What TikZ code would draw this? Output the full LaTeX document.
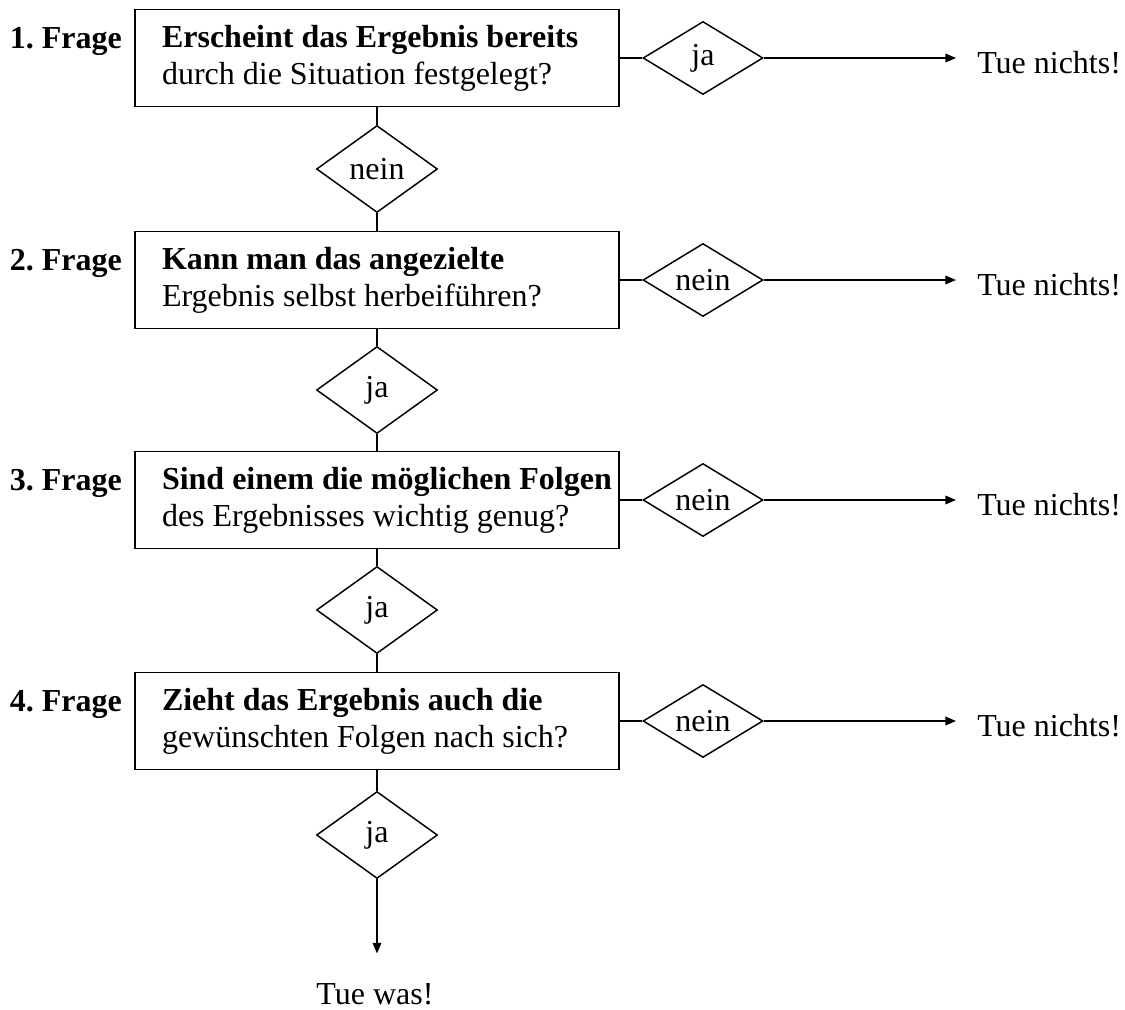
\documentclass[tikz,border=0pt]{standalone}
\usepackage{fontspec}
\setmainfont{Liberation Serif}
\frenchspacing
\usetikzlibrary{shapes.geometric,arrows.meta}
\tikzset{
  every node/.style={font=\fontsize{24}{27.75}\selectfont},
  frage/.style={draw,line width=1.4pt,rectangle,minimum width=363pt,
    minimum height=72.75pt,inner xsep=20.25pt,text width=322.5pt,align=flush left},
  weiter/.style={draw,line width=1.1pt,diamond,aspect=1.6,inner sep=0pt,
    minimum width=90.75pt,minimum height=65.25pt},
  antwort/.style={draw,line width=1.1pt,diamond,aspect=1.6,inner sep=0pt,
    minimum width=90pt,minimum height=54.75pt},
  nummer/.style={anchor=base east,inner sep=0pt,font=\fontsize{24}{27.75}\selectfont\bfseries},
  ende/.style={anchor=base west,inner sep=0pt},
  linie/.style={line width=1.1pt},
  pfeil/.style={line width=1.1pt,-{Triangle[length=8pt,width=6.5pt]}}
}
\begin{document}
\begin{tikzpicture}[x=0.75pt,y=-0.75pt]
  \useasboundingbox (0,0) rectangle (1125,1010);
  % Draw question boxes
  \node[frage] (b1) at (377,58)
    {\mbox{\textbf{Erscheint das Ergebnis bereits}}\\\mbox{durch die Situation festgelegt?}};
  \node[frage] (b2) at (377,280)
    {\mbox{\textbf{Kann man das angezielte}}\\\mbox{Ergebnis selbst herbeiführen?}};
  \node[frage] (b3) at (377,500)
    {\mbox{\textbf{Sind einem die möglichen Folgen}}\\\mbox{des Ergebnisses wichtig genug?}};
  \node[frage] (b4) at (377,721)
    {\mbox{\textbf{Zieht das Ergebnis auch die}}\\\mbox{gewünschten Folgen nach sich?}};
  % Draw question numbers
  \node[nummer] (n1) at (122,48)  {1. Frage};
  \node[nummer] (n2) at (122,270) {2. Frage};
  \node[nummer] (n3) at (122,490) {3. Frage};
  \node[nummer] (n4) at (122,711) {4. Frage};
  % Draw answers to the right
  \node[antwort] (r1) at (703,58)  {ja};
  \node[antwort] (r2) at (703,280) {nein};
  \node[antwort] (r3) at (703,500) {nein};
  \node[antwort] (r4) at (703,721) {nein};
  \node[ende] (t1) at (977,73)  {Tue nichts!};
  \node[ende] (t2) at (977,295) {Tue nichts!};
  \node[ende] (t3) at (977,515) {Tue nichts!};
  \node[ende] (t4) at (977,736) {Tue nichts!};
  % Draw answers downwards
  \node[weiter] (d1) at (377,169) {nein};
  \node[weiter] (d2) at (377,390) {ja};
  \node[weiter] (d3) at (377,610) {ja};
  \node[weiter] (d4) at (377,835) {ja};
  \node[anchor=base,inner sep=0pt] (w) at (375,1004) {Tue was!};
  % Draw connectors
  \draw[linie] (b1) -- (d1) -- (b2);
  \draw[linie] (b2) -- (d2) -- (b3);
  \draw[linie] (b3) -- (d3) -- (b4);
  \draw[linie] (b1) -- (r1);
  \draw[linie] (b2) -- (r2);
  \draw[linie] (b3) -- (r3);
  \draw[linie] (b4) -- (r4);
  \draw[pfeil,shorten >=15.75pt] (r1.east) -- (r1.east -| t1.west);
  \draw[pfeil,shorten >=15.75pt] (r2.east) -- (r2.east -| t2.west);
  \draw[pfeil,shorten >=15.75pt] (r3.east) -- (r3.east -| t3.west);
  \draw[pfeil,shorten >=15.75pt] (r4.east) -- (r4.east -| t4.west);
  \draw[linie] (b4) -- (d4);
  \draw[pfeil,shorten >=22pt] (d4.south) -- (d4.south |- w.north);
\end{tikzpicture}
\end{document}
